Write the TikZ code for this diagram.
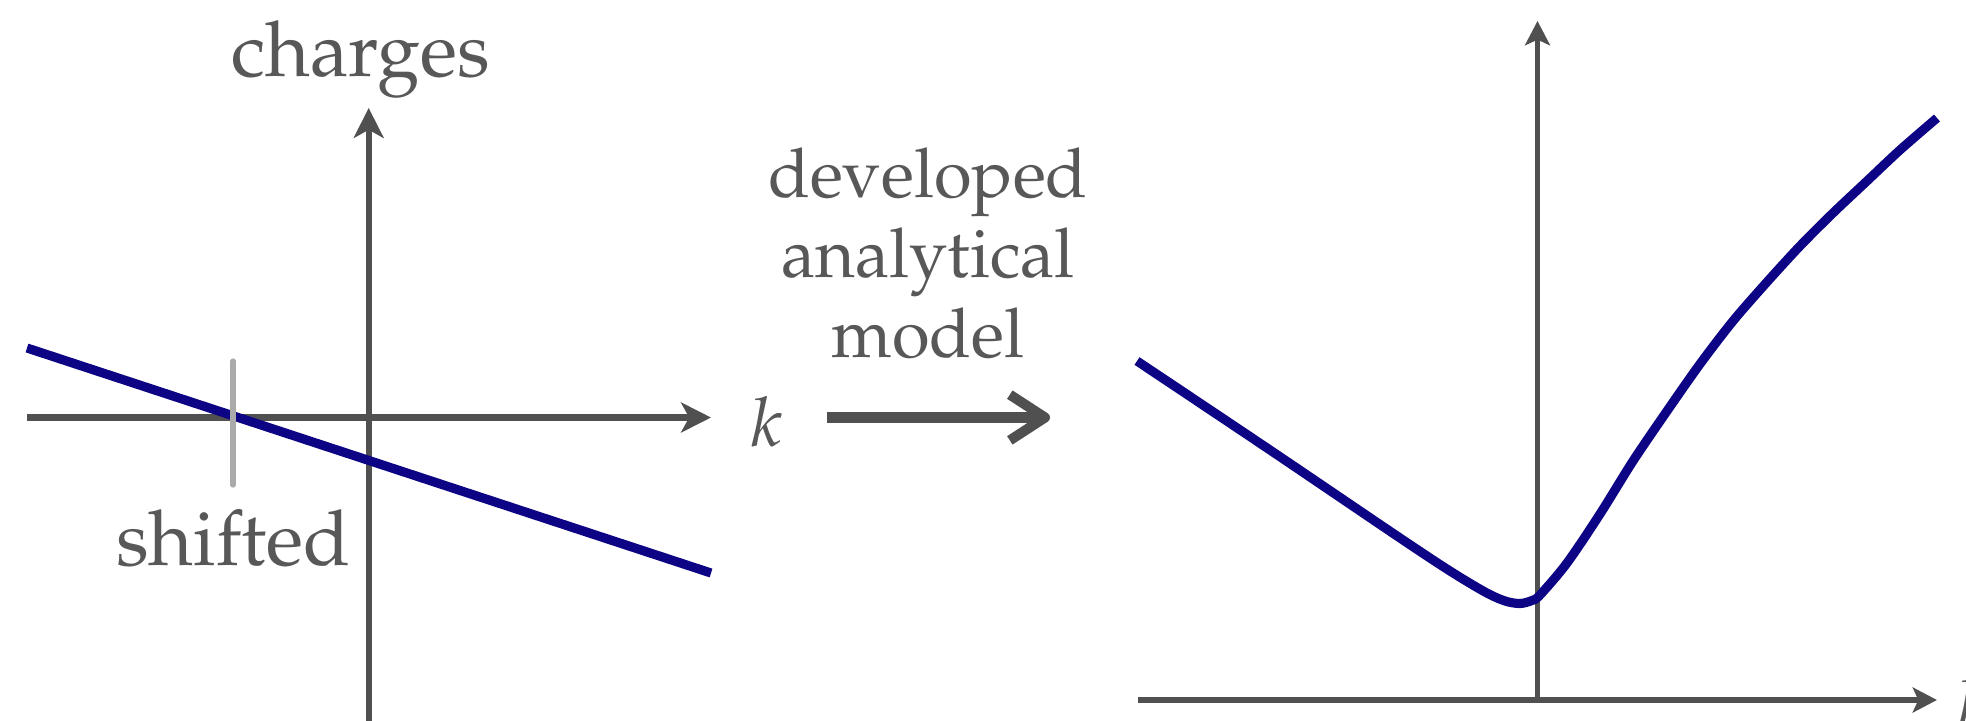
\documentclass[tikz,border=0pt]{standalone}
\usepackage[T1]{fontenc}
\usepackage{mathpazo}
\usetikzlibrary{arrows.meta}
\definecolor{axisgray}{RGB}{80,80,80}
\definecolor{txtgray}{RGB}{88,88,88}
\definecolor{curveblue}{RGB}{12,4,132}
\definecolor{tickgray}{RGB}{170,170,170}
\begin{document}
\begin{tikzpicture}[x=0.01cm,y=-0.01cm,
  lbl/.style={text=txtgray, font=\fontsize{19.5}{23}\selectfont, inner sep=0pt, anchor=base},
  biglbl/.style={lbl, font=\fontsize{21.9}{26}\selectfont},
  axisL/.style={draw=axisgray, line width=1.75pt, -{Stealth[length=8.5pt,width=8.5pt,inset=2.3pt]}},
  axisR/.style={draw=axisgray, line width=1.45pt, -{Stealth[length=6.9pt,width=7.1pt,inset=1.6pt]}},
  bigarrow/.style={draw=axisgray, line width=2.85pt, -{Straight Barb[length=10pt,width=13pt,line join=round]}},
  curve/.style={draw=curveblue, line width=2.6pt},
  tick/.style={draw=tickgray, line width=1.5pt, line cap=round}]
\useasboundingbox (0,0) rectangle (1966,721);
% left panel
\coordinate (lxs) at (27,417.5);
\coordinate (lxe) at (711,417.5);
\coordinate (lys) at (368.7,730);
\coordinate (lye) at (368.7,108);
\draw[axisL] (lxs) -- (lxe);
\draw[axisL] (lys) -- (lye);
\coordinate (ls) at (27,348);
\coordinate (le) at (711,573);
\draw[curve] (ls) -- (le);
\coordinate (ts) at (233,361);
\coordinate (te) at (233,485);
\draw[tick] (ts) -- (te);
\node[biglbl] (charges) at (360.5,77) {charges};
\node[biglbl] (shifted) at (233.5,565) {shifted};
\node[lbl, anchor=base west] (kl) at (750,446) {$k$};
% middle arrow
\node[lbl] (t1) at (928,197) {developed};
\node[lbl] (t2) at (928,277) {analytical};
\node[lbl] (t3) at (928,357) {model};
\coordinate (ma) at (827,417.5);
\coordinate (mb) at (1050,417.5);
\draw[bigarrow] (ma) -- (mb);
% right panel
\coordinate (rxs) at (1138,700);
\coordinate (rxe) at (1937,700);
\coordinate (rys) at (1537.5,700);
\coordinate (rye) at (1537.5,21);
\draw[axisR] (rxs) -- (rxe);
\draw[axisR] (rys) -- (rye);
\node[lbl, anchor=base west] (kr) at (1957,728) {$k$};
\draw[curve] plot[smooth, tension=0.5] coordinates {
 (1137,361) (1270,450) (1400,538) (1450,571) (1485,592) (1505,601) (1520,603.5)
 (1532,600.5) (1540,595) (1567,563) (1600,514) (1633,461) (1667,411)
 (1700,364) (1733,321) (1767,282) (1800,246) (1833,213) (1867,181) (1900,150) (1937,118)};
\end{tikzpicture}
\end{document}
